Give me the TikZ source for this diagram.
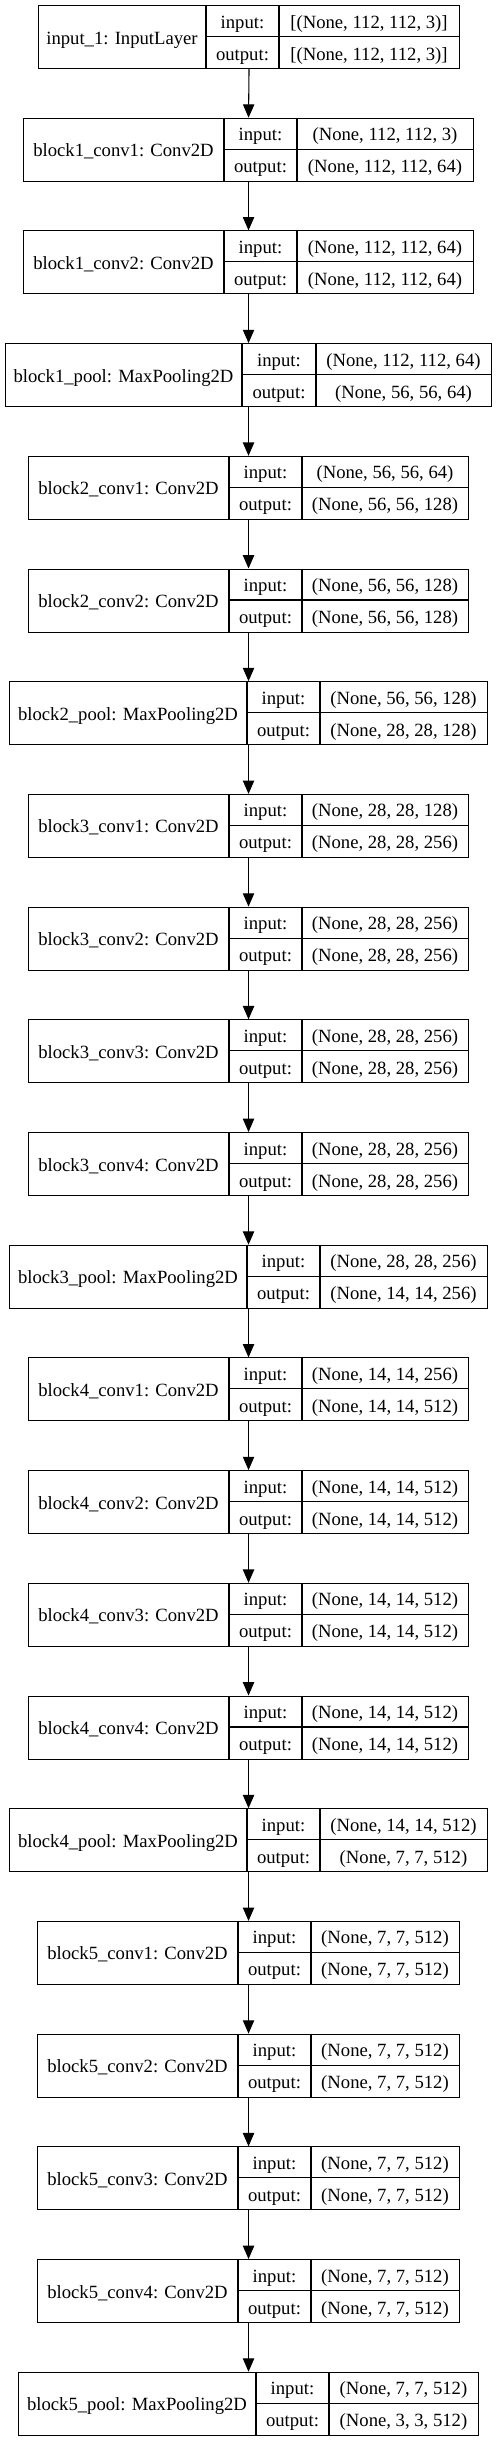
\documentclass[tikz,border=0pt]{standalone}
\usepackage{fontspec}
\setmainfont{Liberation Serif}
\usetikzlibrary{arrows.meta}

\begin{document}
\begin{tikzpicture}[x=0.75pt, y=-0.75pt, line width=0.8pt,
    box/.style={draw, inner sep=0pt, anchor=north west, minimum height=47.25pt},
    txt/.style={anchor=base, inner sep=0pt, font=\fontsize{14pt}{17pt}\selectfont},
    arr/.style={-{Triangle[length=10pt, width=8.5pt]}}]
  \useasboundingbox (0,0) rectangle (497,2441);
  % one record per layer: left edge, two dividers, right edge
  \foreach \i/\lab/\xa/\xb/\xc/\xd/\inp/\outp in {
    0/{input\_1: InputLayer}/38/206/279/459/{[(None, 112, 112, 3)]}/{[(None, 112, 112, 3)]},
    1/{block1\_conv1: Conv2D}/23/224/297/473/{(None, 112, 112, 3)}/{(None, 112, 112, 64)},
    2/{block1\_conv2: Conv2D}/23/224/297/473/{(None, 112, 112, 64)}/{(None, 112, 112, 64)},
    3/{block1\_pool: MaxPooling2D}/5/242/316/491/{(None, 112, 112, 64)}/{(None, 56, 56, 64)},
    4/{block2\_conv1: Conv2D}/28/229/302/468/{(None, 56, 56, 64)}/{(None, 56, 56, 128)},
    5/{block2\_conv2: Conv2D}/28/229/302/468/{(None, 56, 56, 128)}/{(None, 56, 56, 128)},
    6/{block2\_pool: MaxPooling2D}/9/247/320/487/{(None, 56, 56, 128)}/{(None, 28, 28, 128)},
    7/{block3\_conv1: Conv2D}/28/229/302/468/{(None, 28, 28, 128)}/{(None, 28, 28, 256)},
    8/{block3\_conv2: Conv2D}/28/229/302/468/{(None, 28, 28, 256)}/{(None, 28, 28, 256)},
    9/{block3\_conv3: Conv2D}/28/229/302/468/{(None, 28, 28, 256)}/{(None, 28, 28, 256)},
    10/{block3\_conv4: Conv2D}/28/229/302/468/{(None, 28, 28, 256)}/{(None, 28, 28, 256)},
    11/{block3\_pool: MaxPooling2D}/9/247/320/487/{(None, 28, 28, 256)}/{(None, 14, 14, 256)},
    12/{block4\_conv1: Conv2D}/28/229/302/468/{(None, 14, 14, 256)}/{(None, 14, 14, 512)},
    13/{block4\_conv2: Conv2D}/28/229/302/468/{(None, 14, 14, 512)}/{(None, 14, 14, 512)},
    14/{block4\_conv3: Conv2D}/28/229/302/468/{(None, 14, 14, 512)}/{(None, 14, 14, 512)},
    15/{block4\_conv4: Conv2D}/28/229/302/468/{(None, 14, 14, 512)}/{(None, 14, 14, 512)},
    16/{block4\_pool: MaxPooling2D}/9/247/320/487/{(None, 14, 14, 512)}/{(None, 7, 7, 512)},
    17/{block5\_conv1: Conv2D}/37/238/311/459/{(None, 7, 7, 512)}/{(None, 7, 7, 512)},
    18/{block5\_conv2: Conv2D}/37/238/311/459/{(None, 7, 7, 512)}/{(None, 7, 7, 512)},
    19/{block5\_conv3: Conv2D}/37/238/311/459/{(None, 7, 7, 512)}/{(None, 7, 7, 512)},
    20/{block5\_conv4: Conv2D}/37/238/311/459/{(None, 7, 7, 512)}/{(None, 7, 7, 512)},
    21/{block5\_pool: MaxPooling2D}/18/256/329/478/{(None, 7, 7, 512)}/{(None, 3, 3, 512)}}{
    \pgfmathsetmacro\yt{5+\i*112.7}
    \pgfmathsetmacro\w{(\xd-\xa)*0.75}
    \node[box, minimum width=\w pt] (l\i) at (\xa,\yt) {};
    \draw (\xb,\yt) -- (\xb,\yt+63) (\xc,\yt) -- (\xc,\yt+63)
      (\xb,\yt+31.5) -- (\xd,\yt+31.5);
    \node[txt] (l\i-name) at ({(\xa+\xb)/2},\yt+39) {\lab};
    \node[txt] (l\i-ilab) at ({(\xb+\xc)/2},\yt+23) {input:};
    \node[txt] (l\i-olab) at ({(\xb+\xc)/2},\yt+55) {output:};
    \node[txt] (l\i-in) at ({(\xc+\xd)/2},\yt+23) {\inp};
    \node[txt] (l\i-out) at ({(\xc+\xd)/2},\yt+55) {\outp};
  }
  \foreach \i [evaluate=\i as \j using int(\i+1)] in {0,...,20}
    \draw[arr] (l\i.south) -- (l\j.north);
\end{tikzpicture}
\end{document}
